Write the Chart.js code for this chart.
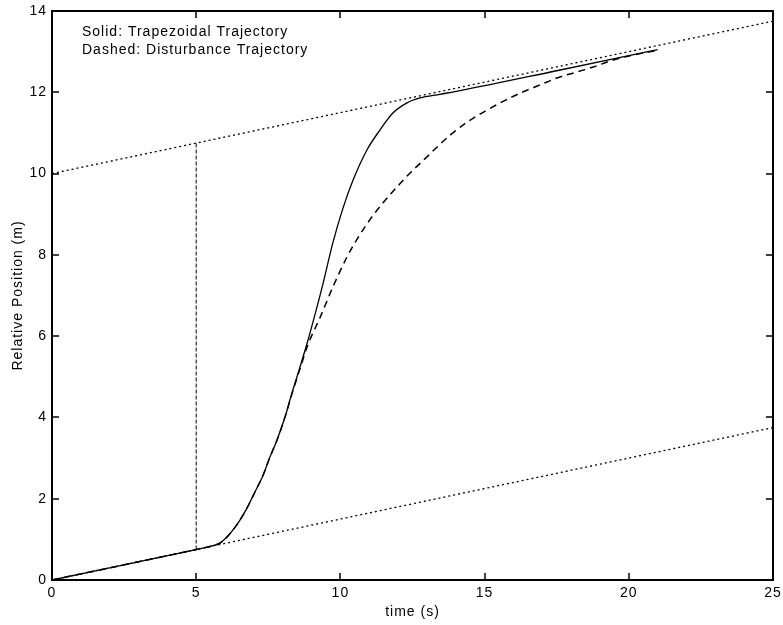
<!DOCTYPE html>
<html>
<head>
<meta charset="utf-8">
<script src="https://cdn.jsdelivr.net/npm/chart.js@4/dist/chart.umd.min.js"></script>
<style>
  body { margin: 0; background: #fff; }
  #wrap { width: 783px; height: 625px; }
</style>
</head>
<body>
<div id="wrap"><canvas id="traj" width="783" height="625"></canvas></div>
<script>
// Dados
const solidT = [0, 5, 5.5, 5.85, 6.35, 6.76, 7.04, 7.32, 7.56, 7.8, 8.08, 8.32, 8.6, 8.88, 9.05, 9.4, 9.74, 10.09, 10.44, 10.92, 11.37, 11.82, 12.31, 12.76, 13.45, 14.15, 17.5, 21];
const solidPos = [0, 0.75, 0.83, 0.92, 1.3, 1.77, 2.17, 2.58, 3.03, 3.44, 4.01, 4.6, 5.24, 5.91, 6.35, 7.3, 8.3, 9.15, 9.84, 10.58, 11.07, 11.49, 11.74, 11.86, 11.95, 12.04, 12.53, 13.05];

const dashedT = [0, 5, 5.5, 5.85, 6.35, 6.76, 7.04, 7.32, 7.56, 7.8, 8.08, 8.32, 8.6, 8.88, 9.29, 9.74, 10.23, 10.68, 11.13, 11.48, 11.96, 12.41, 13.0, 13.45, 13.9, 14.42, 15.08, 15.71, 16.3, 16.92, 17.5, 18.2, 18.76, 19.4, 20.04, 21];
const dashedPos = [0, 0.75, 0.83, 0.92, 1.3, 1.77, 2.17, 2.58, 3.03, 3.44, 4.01, 4.58, 5.2, 5.8, 6.45, 7.21, 7.95, 8.5, 8.97, 9.28, 9.67, 10.01, 10.41, 10.72, 11.0, 11.28, 11.56, 11.8, 12.0, 12.18, 12.35, 12.5, 12.62, 12.78, 12.9, 13.03];

const boundT = [0, 25];
const upperBound = [10, 13.75];
const lowerBound = [0, 3.75];

const markerT = [5, 5];
const markerPos = [0.75, 10.75];

const xTicks = [0, 5, 10, 15, 20, 25];
const yTicks = [0, 2, 4, 6, 8, 10, 12, 14];

const noteLines = ["Solid: Trapezoidal Trajectory", "Dashed: Disturbance Trajectory"];

const pts = (xs, ys) => xs.map((x, i) => ({ x: x, y: ys[i] }));
const FONT = "Liberation Sans, Arial, sans-serif";

// caixa estilo MATLAB com marcas para dentro + anotação
const boxPlugin = {
  id: "box",
  beforeLayout(chart) { chart.ctx.letterSpacing = "1px"; },
  beforeDraw(chart) { chart.ctx.letterSpacing = "1px"; },
  afterDraw(chart) {
    const { ctx, chartArea: a, scales } = chart;
    ctx.save();
    ctx.setLineDash([]);
    ctx.strokeStyle = "#000000";
    ctx.lineWidth = 2;
    const L = Math.round(a.left), R = Math.round(a.right);
    const T = Math.round(a.top), B = Math.round(a.bottom);
    ctx.strokeRect(L, T, R - L, B - T);
    const len = 7;
    ctx.lineWidth = 1.5;
    ctx.beginPath();
    xTicks.forEach(v => {
      const px = Math.round(scales.x.getPixelForValue(v));
      ctx.moveTo(px, B); ctx.lineTo(px, B - len);
      ctx.moveTo(px, T); ctx.lineTo(px, T + len);
    });
    yTicks.forEach(v => {
      const py = Math.round(scales.y.getPixelForValue(v));
      ctx.moveTo(L, py); ctx.lineTo(L + len, py);
      ctx.moveTo(R, py); ctx.lineTo(R - len, py);
    });
    ctx.stroke();
    ctx.fillStyle = "#000";
    ctx.font = "14px " + FONT;
    ctx.letterSpacing = "1px";
    ctx.textBaseline = "middle";
    noteLines.forEach((t, i) => ctx.fillText(t, a.left + 30, a.top + 21 + i * 18));
    ctx.restore();
  },
};

const ctx = document.getElementById("traj").getContext("2d");

new Chart(ctx, {
  type: "scatter",
  data: {
    datasets: [
      {
        data: pts(boundT, upperBound),
        showLine: true, borderColor: "#000", borderWidth: 1.3, borderDash: [2, 3],
        pointRadius: 0,
      },
      {
        data: pts(boundT, lowerBound),
        showLine: true, borderColor: "#000", borderWidth: 1.3, borderDash: [2, 3],
        pointRadius: 0,
      },
      {
        data: pts(markerT, markerPos),
        showLine: true, borderColor: "#000", borderWidth: 1, borderDash: [4, 2],
        pointRadius: 0,
      },
      {
        data: pts(dashedT, dashedPos),
        showLine: true, borderColor: "#000", borderWidth: 1.5, borderDash: [7, 5],
        cubicInterpolationMode: "monotone", pointRadius: 0,
      },
      {
        data: pts(solidT, solidPos),
        showLine: true, borderColor: "#000", borderWidth: 1.3,
        cubicInterpolationMode: "monotone", pointRadius: 0,
      },
    ],
  },
  options: {
    responsive: false,
    animation: false,
    layout: { padding: { top: 11, right: 10, left: 0, bottom: 0 } },
    plugins: {
      legend: { display: false },
      tooltip: { enabled: false },
    },
    scales: {
      x: {
        type: "linear", min: 0, max: 25,
        afterFit: s => { s.height = 45; s.paddingLeft = 0; s.paddingRight = 0; },
        afterBuildTicks: s => { s.ticks = xTicks.map(v => ({ value: v })); },
        grid: { display: false, drawTicks: false },
        border: { display: false },
        ticks: { color: "#000", padding: 5, maxRotation: 0, font: { size: 14, family: FONT } },
        title: { display: true, text: "time (s)", color: "#000", padding: { top: 5 }, font: { size: 14, family: FONT } },
      },
      y: {
        type: "linear", min: 0, max: 14,
        afterFit: s => { s.width = 52; s.paddingTop = 0; s.paddingBottom = 0; },
        afterBuildTicks: s => { s.ticks = yTicks.map(v => ({ value: v })); },
        grid: { display: false, drawTicks: false },
        border: { display: false },
        ticks: { color: "#000", padding: 5, font: { size: 14, family: FONT } },
        title: { display: true, text: "Relative Position (m)", color: "#000", padding: { top: 10, bottom: 0 }, font: { size: 14, family: FONT } },
      },
    },
  },
  plugins: [boxPlugin],
});
</script>
</body>
</html>
